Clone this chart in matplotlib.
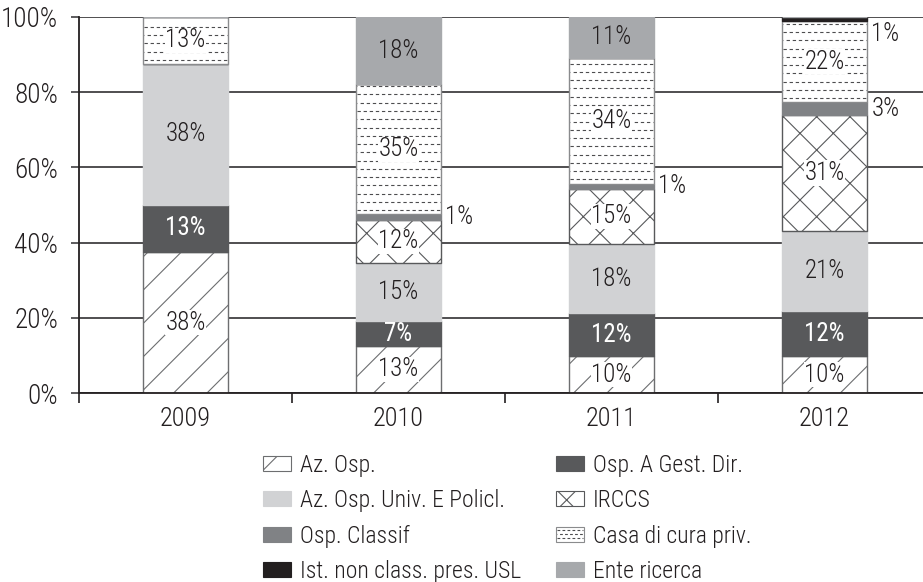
import math

import matplotlib

matplotlib.use("Agg")
import matplotlib.pyplot as plt
from matplotlib.legend_handler import HandlerPatch
from matplotlib.lines import Line2D
from matplotlib.patches import Patch, Rectangle

plt.rcParams["font.family"] = ["Roboto Condensed", "DejaVu Sans"]
plt.rcParams["font.weight"] = "light"
plt.rcParams["hatch.linewidth"] = 0.8

years = ["2009", "2010", "2011", "2012"]

# share of each structure type per year (%), bottom to top of the stack
az_osp = [37.5, 12.5, 9.8, 9.8]
osp_gest_dir = [12.5, 6.6, 11.5, 12.0]
az_osp_univ = [37.5, 15.4, 18.3, 21.3]
irccs = [0.0, 11.6, 14.7, 30.8]
osp_classif = [0.0, 1.4, 1.4, 3.4]
casa_cura = [12.5, 34.6, 33.5, 21.6]
ist_non_class = [0.0, 0.0, 0.0, 1.1]
ente_ricerca = [0.0, 17.9, 10.8, 0.0]

series = [
    ("Az. Osp.", az_osp),
    ("Osp. A Gest. Dir.", osp_gest_dir),
    ("Az. Osp. Univ. E Policl.", az_osp_univ),
    ("IRCCS", irccs),
    ("Osp. Classif", osp_classif),
    ("Casa di cura priv.", casa_cura),
    ("Ist. non class. pres. USL", ist_non_class),
    ("Ente ricerca", ente_ricerca),
]

TXT = "#231f20"
DASH = "#4d4d4f"
# face, hatch, edge, label colour
styles = [
    ("white", "/", "#6d6e70", TXT),
    ("#58595b", None, "#58595b", "white"),
    ("#d1d2d4", None, "#d1d2d4", TXT),
    ("white", "x", "#58595b", TXT),
    ("#808285", None, "#808285", TXT),
    ("white", "dash", "#8a8b8d", TXT),
    ("#231f20", None, "#231f20", "white"),
    ("#a7a9ac", None, "#a7a9ac", TXT),
]


def pct(v):
    return f"{math.floor(v + 0.5)}%"


class DashedBoxHandler(HandlerPatch):
    """Legend key: white box filled with staggered dashed rows."""

    def create_artists(self, legend, orig_handle, xdescent, ydescent,
                       width, height, fontsize, trans):
        x0, y0 = -xdescent, -ydescent
        arts = [Rectangle((x0, y0), width, height, facecolor="white",
                          edgecolor=orig_handle.get_edgecolor(), lw=0.8,
                          transform=trans)]
        for k, frac in enumerate((0.22, 0.5, 0.78)):
            y = y0 + frac * height
            arts.append(Line2D([x0 + 1, x0 + width - 1], [y, y], color=DASH, lw=0.8,
                               linestyle=((k % 2) * 2.2, (2.5, 2)), transform=trans))
        return arts


fig = plt.figure(figsize=(9.23, 5.82), dpi=100, facecolor="white")
ax = fig.add_axes([79 / 923, 189 / 582, 852 / 923, 376 / 582])

x = list(range(len(years)))
width = 0.4
bottom = [0.0] * len(years)
handles = []
for (name, vals), (fc, hatch, ec, tc) in zip(series, styles):
    ax.bar(x, vals, width, bottom=bottom, color=fc,
           hatch=hatch if hatch in ("/", "x") else None,
           edgecolor=ec, linewidth=1.0, zorder=2)
    for i, (b, v) in enumerate(zip(bottom, vals)):
        if v <= 0:
            continue
        if hatch == "dash":
            # dashed horizontal texture, alternate rows shifted
            x0, x1 = i - width / 2 + 0.005, i + width / 2 - 0.005
            ys = []
            y = b + 1.1
            while y < b + v - 0.4:
                ys.append(y)
                y += 2.2
            ax.hlines(ys[0::2], x0, x1, colors=DASH, linewidth=0.8,
                      linestyles=(0, (3, 2.5)), zorder=3)
            ax.hlines(ys[1::2], x0, x1, colors=DASH, linewidth=0.8,
                      linestyles=(2.7, (3, 2.5)), zorder=3)
        if v >= 5:
            kw = {}
            if hatch is not None:
                kw["bbox"] = dict(facecolor="white", edgecolor="none", pad=0.5)
            ax.text(i, b + v / 2, pct(v), ha="center", va="center",
                    fontsize=18, color=tc, zorder=5,
                    fontweight="normal" if tc == "white" else "light", **kw)
        else:
            ax.text(i + width / 2 + 0.02, min(b + v / 2, 95.5), pct(v),
                    ha="left", va="center", fontsize=18, color=TXT, zorder=5)
    bottom = [b + v for b, v in zip(bottom, vals)]
    handles.append(Patch(facecolor=fc, edgecolor=ec if hatch else fc,
                         hatch=hatch if hatch in ("/", "x") else None,
                         linewidth=0.8, label=name))

ax.set_xlim(-0.5, 3.5)
ax.set_ylim(0, 100)
ax.set_yticks(range(0, 101, 20))
ax.set_yticklabels([f"{t}%" for t in range(0, 101, 20)])
ax.set_xticks(x)
ax.set_xticklabels(years)
ax.set_xticks([-0.5, 0.5, 1.5, 2.5], minor=True)
ax.tick_params(axis="x", which="major", length=0, pad=10, labelsize=19, labelcolor=TXT)
ax.tick_params(axis="x", which="minor", length=7, width=1.2, color=TXT)
ax.tick_params(axis="y", length=6, width=1.2, color="#414042", pad=9,
               labelsize=19.5, labelcolor=TXT)
ax.yaxis.grid(True, color="#414042", linewidth=1.3)
ax.set_axisbelow(True)
for s in ("top", "right"):
    ax.spines[s].set_visible(False)
ax.spines["left"].set_color(TXT)
ax.spines["left"].set_linewidth(1.3)
ax.spines["bottom"].set_color(TXT)
ax.spines["bottom"].set_linewidth(1.3)

# legend in two columns, read row by row
leg_kw = dict(loc="upper left", frameon=False, fontsize=17, borderpad=0,
              borderaxespad=0, handlelength=1.2, handleheight=0.6,
              handletextpad=0.35, labelspacing=0.52, labelcolor=TXT,
              handler_map={handles[5]: DashedBoxHandler()})
fig.legend(handles=handles[0::2], bbox_to_anchor=(263 / 923, 1 - 454 / 582), **leg_kw)
fig.legend(handles=handles[1::2], bbox_to_anchor=(556 / 923, 1 - 454 / 582), **leg_kw)

fig.savefig("out.png", dpi=100, facecolor="white")
